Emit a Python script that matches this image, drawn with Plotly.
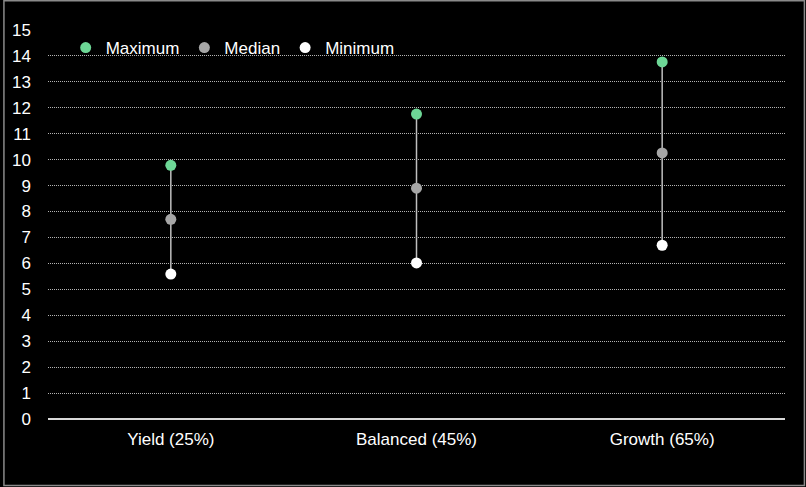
import plotly.graph_objects as go

categories = ["Yield (25%)", "Balanced (45%)", "Growth (65%)"]
maximum = [9.78, 11.76, 13.77]
median = [7.70, 8.90, 10.26]
minimum = [5.59, 6.02, 6.70]
y_ticks = list(range(0, 16))

W, H = 806, 487
L, R, T, B = 45, 21, 30, 68

fig = go.Figure()

# median trace carries the min-max range line
fig.add_trace(go.Scatter(
    x=categories, y=median, mode="markers", name="Median",
    marker=dict(color="#a6a6a6", size=11),
    error_y=dict(type="data", symmetric=False,
                 array=[mx - md for mx, md in zip(maximum, median)],
                 arrayminus=[md - mn for md, mn in zip(median, minimum)],
                 width=0, thickness=1.5, color="#bfbfbf"),
    showlegend=True, legendrank=2,
))
fig.add_trace(go.Scatter(
    x=categories, y=maximum, mode="markers", name="Maximum",
    marker=dict(color="#6dd796", size=11), legendrank=1,
))
fig.add_trace(go.Scatter(
    x=categories, y=minimum, mode="markers", name="Minimum",
    marker=dict(color="#ffffff", size=11), legendrank=3,
))

pw = W - L - R
ph = H - T - B
fig.add_shape(type="rect", xref="paper", yref="paper",
              x0=-(L - 0.75) / pw, x1=(W - L - 1.5) / pw,
              y0=-(B - 1.5) / ph, y1=(H - B - 0.75) / ph,
              line=dict(color="#8a8a8a", width=1.5), layer="above")

fig.update_layout(
    width=W, height=H,
    margin=dict(l=L, r=R, t=T, b=B),
    paper_bgcolor="#000000", plot_bgcolor="#000000",
    font=dict(family="Liberation Sans, Arial, sans-serif", size=17, color="#ffffff"),
    showlegend=True,
    legend=dict(orientation="h", x=0.024, y=1.0, xanchor="left", yanchor="top",
                bgcolor="rgba(0,0,0,0)", font=dict(size=17, color="#ffffff"),
                itemwidth=30, traceorder="normal"),
    xaxis=dict(range=[-0.5, 2.5], showgrid=False, zeroline=False,
               showline=False, ticks="", tickfont=dict(size=17),
               ticklabelstandoff=8, fixedrange=True),
    yaxis=dict(range=[0, 15], tickvals=y_ticks, showgrid=True,
               gridcolor="#b4b4b4", griddash="1px,1px", gridwidth=1,
               zeroline=True, zerolinecolor="#d9d9d9", zerolinewidth=1.5,
               showline=False, ticks="", tickfont=dict(size=17),
               ticklabelstandoff=16, fixedrange=True),
)

fig.write_html("out.html", config={"displayModeBar": False},
               post_script="document.body.style.margin='0';")
